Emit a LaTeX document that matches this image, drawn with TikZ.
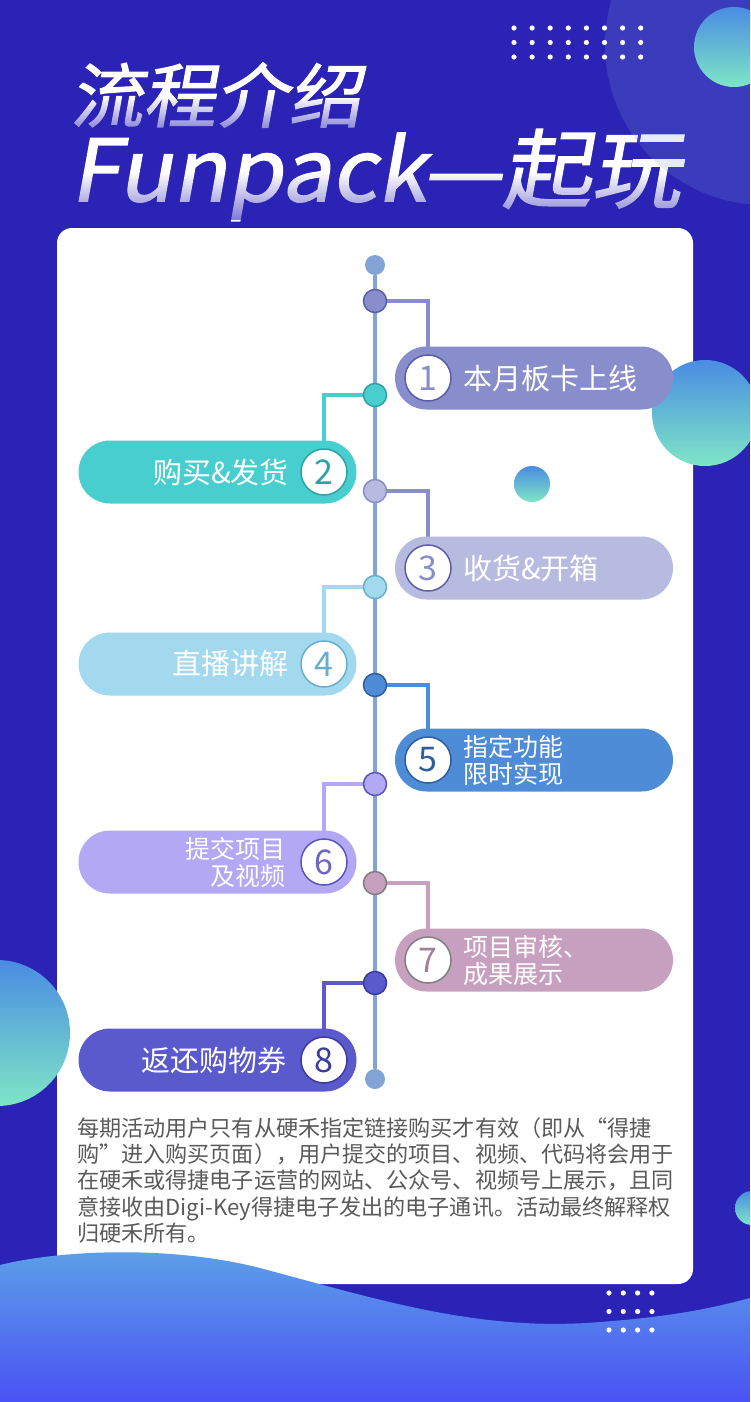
\documentclass[tikz,border=0pt]{standalone}
\usepackage{fontspec}
\setmainfont{Noto Sans CJK SC}
\newfontfamily\headfont[FakeSlant=0.18,FakeBold=1.5,FakeStretch=1.04]{Noto Sans CJK SC}
\usetikzlibrary{fadings}

\definecolor{bgblue}{HTML}{2A23B6}
\definecolor{railc}{HTML}{82A3D6}
\definecolor{footc}{HTML}{5A5A5A}
\definecolor{wavetop}{HTML}{5CA2E8}
\definecolor{wavebot}{HTML}{4A52F4}
\definecolor{balltop}{HTML}{4A8CE2}
\definecolor{ballbot}{HTML}{7EE6C6}
\definecolor{c1}{HTML}{888DCB}\definecolor{c1d}{HTML}{5A5EA8}
\definecolor{c2}{HTML}{48CECF}\definecolor{c2d}{HTML}{2DA2A6}
\definecolor{c3}{HTML}{B8BBE0}\definecolor{c3d}{HTML}{5D5FA2}
\definecolor{c4}{HTML}{A3D9EF}\definecolor{c4d}{HTML}{68AFCC}
\definecolor{c5}{HTML}{4F8CD8}\definecolor{c5d}{HTML}{2F5E9F}
\definecolor{c6}{HTML}{B2A8F4}\definecolor{c6d}{HTML}{5A55B8}
\definecolor{c7}{HTML}{C8A0BF}\definecolor{c7d}{HTML}{7F7F7F}
\definecolor{c8}{HTML}{5A5ACC}\definecolor{c8d}{HTML}{3A3AA0}

\pgfdeclarelayer{back}
\pgfdeclarelayer{lines}
\pgfsetlayers{back,lines,main}
\tikzfading[name=titlefade, top color=transparent!100, bottom color=transparent!40]

\begin{document}
\begin{tikzpicture}[x=1pt,y=-1pt,
    rail/.style={line width=3.5pt,draw=railc},
    linkc/.style={line width=3.5pt,draw=#1},
    enddot/.style={circle,fill=railc,inner sep=0pt,minimum size=20pt},
    stop/.style 2 args={circle,fill=#1,draw=#2,line width=1.5pt,inner sep=0pt,minimum size=23pt},
    pill/.style={rectangle,rounded corners=31.5pt,fill=#1,inner sep=0pt,minimum width=278pt,minimum height=63pt},
    num/.style 2 args={circle,fill=white,draw=#1,text=#2,line width=1.5pt,inner sep=0pt,minimum size=46pt,font=\fontsize{34}{34}\selectfont},
    stepR/.style={anchor=west,text=white,align=left,inner sep=0pt,font=\fontsize{29}{31}\selectfont},
    stepL/.style={anchor=east,text=white,align=right,inner sep=0pt,font=\fontsize{29}{31}\selectfont},
    twolines/.style={font=\fontsize{25}{27}\selectfont},
    ball/.style={top color=balltop,bottom color=ballbot}]
  \clip (0,0) rectangle (750,1402);
  \useasboundingbox (0,0) rectangle (750,1402);

  % backdrop, title and card
  \begin{pgfonlayer}{back}
    \fill[bgblue] (0,0) rectangle (750,1402);
    \node[anchor=west,inner sep=0pt,text=white,font=\headfont\fontsize{70}{70}\selectfont] (head) at (70,95) {流程介绍};
    \node[anchor=west,inner sep=0pt,text=white,font=\headfont\fontsize{86}{86}\selectfont] (brand) at (70,175) {Funpack—起玩};
    \fill[bgblue,path fading=titlefade] (60,96) rectangle (400,132);
    \fill[bgblue,path fading=titlefade] (60,172) rectangle (700,220);
    \fill[white,rounded corners=15pt] (57,228) rectangle (693,1284);
  \end{pgfonlayer}

  % decoration
  \fill[railc,opacity=0.2] (765,45) circle[radius=160];
  \shade[ball] (734,47) circle[radius=40];
  \foreach \i in {0,...,7}
    \foreach \j in {0,1,2}
      \fill[white] (514+18.1*\i,28+14.5*\j) circle[radius=2.6];
  \shade[ball] (705,413) circle[radius=53];
  \shade[ball] (532,484) circle[radius=18];
  \shade[ball] (-3,1033) circle[radius=73];
  \shade[ball] (752,1208) circle[radius=17];

  % rail ends
  \node[enddot] (top) at (375,265) {};
  \node[enddot] (bot) at (375,1079) {};

  % steps
  \node[stop={c1}{c1d}] (d1) at (375,301) {};
  \node[pill=c1] (p1) at (534,378) {};
  \node[num={c1d}{c1}] (n1) at (428,378) {1};
  \node[stepR] (t1) at (463,378) {本月板卡上线};

  \node[stop={c2}{c2d}] (d2) at (375,395) {};
  \node[pill=c2] (p2) at (217.5,472) {};
  \node[num={c2d}{c2d}] (n2) at (324,472) {2};
  \node[stepL] (t2) at (289,472) {购买\&发货};

  \node[stop={c3}{c1}] (d3) at (375,491) {};
  \node[pill=c3] (p3) at (534,568) {};
  \node[num={c3d}{c1}] (n3) at (428,568) {3};
  \node[stepR] (t3) at (463,568) {收货\&开箱};

  \node[stop={c4}{c4d}] (d4) at (375,587) {};
  \node[pill=c4] (p4) at (217.5,664) {};
  \node[num={c4d}{c4d}] (n4) at (324,664) {4};
  \node[stepL] (t4) at (289,664) {直播讲解};

  \node[stop={c5}{c5d}] (d5) at (375,685) {};
  \node[pill=c5] (p5) at (534,760) {};
  \node[num={c5d}{c5d}] (n5) at (428,760) {5};
  \node[stepR,twolines] (t5) at (463,760) {指定功能\\限时实现};

  \node[stop={c6}{c6d}] (d6) at (375,784) {};
  \node[pill=c6] (p6) at (217.5,862) {};
  \node[num={c6d}{c6d!80!c6}] (n6) at (324,862) {6};
  \node[stepL,twolines] (t6) at (286,862) {提交项目\\及视频};

  \node[stop={c7}{c7d}] (d7) at (375,883) {};
  \node[pill=c7] (p7) at (534,960) {};
  \node[num={c7d}{c7!80!black}] (n7) at (428,960) {7};
  \node[stepR,twolines] (t7) at (463,960) {项目审核、\\成果展示};

  \node[stop={c8}{c8d}] (d8) at (375,983) {};
  \node[pill=c8] (p8) at (217.5,1060) {};
  \node[num={c8d}{c8d}] (n8) at (324,1060) {8};
  \node[stepL] (t8) at (287,1060) {返还购物券};

  \begin{pgfonlayer}{lines}
    \draw[rail] (top) -- (bot);
    \draw[linkc=c1] (d1) -| (n1);
    \draw[linkc=c2] (d2) -| (n2);
    \draw[linkc=c1] (d3) -| (n3);
    \draw[linkc=c4] (d4) -| (n4);
    \draw[linkc=c5] (d5) -| (n5);
    \draw[linkc=c6] (d6) -| (n6);
    \draw[linkc=c7] (d7) -| (n7);
    \draw[linkc=c8] (d8) -| (n8);
  \end{pgfonlayer}

  % note
  \node[anchor=north west,inner sep=0pt,align=left,text=footc,font=\fontsize{22.1}{26.3}\selectfont] (note) at (77,1117)
    {每期活动用户只有从硬禾指定链接购买才有效（即从“得捷\\
     购”进入购买页面），用户提交的项目、视频、代码将会用于\\
     在硬禾或得捷电子运营的网站、公众号、视频号上展示，且同\\
     意接收由Digi-Key得捷电子发出的电子通讯。活动最终解释权\\
     归硬禾所有。};

  % wave
  \shade[top color=wavetop,bottom color=wavebot]
    (0,1265) .. controls (60,1250) and (170,1245) .. (260,1268)
    .. controls (380,1300) and (480,1332) .. (600,1322)
    .. controls (680,1316) and (720,1306) .. (750,1298)
    -- (750,1402) -- (0,1402) -- cycle;
  \foreach \i in {0,...,3}
    \foreach \j in {0,1,2}
      \fill[white] (609+14.3*\i,1293+18.5*\j) circle[radius=2.6];
\end{tikzpicture}
\end{document}
